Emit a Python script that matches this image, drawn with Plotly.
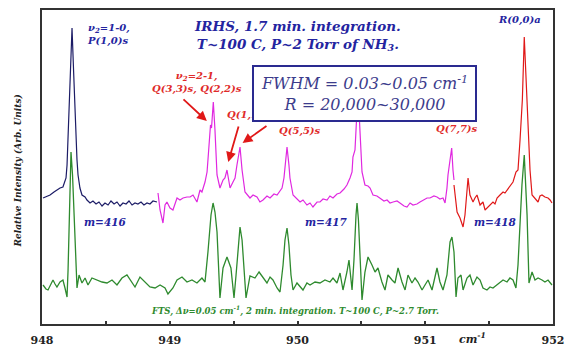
import plotly.graph_objects as go

# ---------------- data (wavenumber in cm-1, relative intensity in arb. units) ----------------
irhs416_x = [948.008, 948.039, 948.063, 948.094, 948.117, 948.141, 948.164, 948.188, 948.196, 948.214,
             948.223, 948.235, 948.247, 948.258, 948.274, 948.282, 948.297, 948.313, 948.337, 948.352,
             948.376, 948.399, 948.423, 948.446, 948.470, 948.493, 948.517, 948.540, 948.564, 948.587,
             948.611, 948.634, 948.658, 948.681, 948.705, 948.728, 948.751, 948.775, 948.798, 948.822,
             948.845, 948.869, 948.900]
irhs416_y = [126, 128, 129, 132, 134, 136, 137, 146, 159, 214,
             254, 296, 254, 214, 164, 149, 136, 129, 127, 124,
             121, 123, 120, 122, 118, 121, 119, 123, 120, 122,
             118, 121, 120, 123, 119, 121, 120, 122, 119, 121,
             120, 123, 122]

irhs417_x = [948.908, 948.924, 948.947, 948.963, 948.978, 949.002, 949.025, 949.057, 949.080, 949.104,
             949.135, 949.159, 949.182, 949.213, 949.237, 949.252, 949.276, 949.292, 949.299, 949.311,
             949.319, 949.327, 949.341, 949.354, 949.370, 949.393, 949.417, 949.432, 949.448, 949.464,
             949.472, 949.495, 949.511, 949.526, 949.550, 949.566, 949.589, 949.628, 949.652, 949.683,
             949.706, 949.730, 949.761, 949.785, 949.816, 949.840, 949.863, 949.879, 949.894, 949.906,
             949.918, 949.933, 949.941, 949.965, 949.988, 950.020, 950.043, 950.074, 950.098, 950.121,
             950.153, 950.176, 950.200, 950.231, 950.254, 950.278, 950.309, 950.333, 950.364, 950.387,
             950.411, 950.427, 950.434, 950.450, 950.466, 950.474, 950.481, 950.497, 950.505, 950.528,
             950.552, 950.568, 950.591, 950.622, 950.646, 950.677, 950.701, 950.724, 950.748, 950.779,
             950.802, 950.834, 950.857, 950.881, 950.904, 950.935, 950.959, 950.990, 951.014, 951.037,
             951.068, 951.092, 951.115, 951.139, 951.155, 951.170, 951.178, 951.194, 951.207, 951.217,
             951.225]
irhs417_y = [131, 114, 101, 119, 122, 116, 114, 126, 124, 126,
             127, 127, 129, 122, 134, 132, 142, 152, 164, 189,
             199, 196, 222, 194, 149, 136, 144, 146, 154, 142,
             136, 142, 146, 159, 177, 154, 132, 126, 129, 127,
             122, 124, 128, 126, 130, 129, 134, 136, 146, 164,
             177, 159, 146, 129, 126, 122, 124, 119, 121, 117,
             122, 122, 125, 124, 128, 126, 130, 131, 135, 139,
             146, 152, 167, 174, 214, 221, 214, 174, 152, 139,
             138, 136, 129, 128, 126, 123, 124, 121, 122, 123,
             121, 118, 117, 121, 119, 120, 122, 124, 126, 126,
             128, 127, 125, 126, 121, 136, 149, 164, 176, 154,
             144]

irhs418_x = [951.225, 951.249, 951.272, 951.288, 951.296, 951.311, 951.327, 951.335, 951.350, 951.374,
             951.389, 951.405, 951.429, 951.452, 951.468, 951.483, 951.507, 951.530, 951.546, 951.562,
             951.585, 951.609, 951.624, 951.640, 951.663, 951.687, 951.710, 951.726, 951.742, 951.760,
             951.775, 951.794, 951.808, 951.820, 951.836, 951.859, 951.883, 951.898, 951.914, 951.937,
             951.961, 951.977, 951.992]
irhs418_y = [139, 112, 106, 99, 97, 109, 129, 146, 129, 122,
             126, 129, 119, 122, 114, 116, 119, 122, 120, 126,
             129, 132, 131, 134, 137, 142, 152, 154, 184, 224,
             287, 224, 184, 154, 129, 126, 122, 128, 129, 127,
             126, 124, 121]

fts_x = [948.008, 948.031, 948.047, 948.070, 948.086, 948.102, 948.117, 948.141, 948.164, 948.180,
         948.196, 948.204, 948.211, 948.219, 948.227, 948.239, 948.250, 948.262, 948.274, 948.290,
         948.313, 948.337, 948.360, 948.391, 948.431, 948.470, 948.509, 948.548, 948.587, 948.626,
         948.665, 948.689, 948.728, 948.767, 948.806, 948.845, 948.885, 948.924, 948.963, 948.986,
         949.025, 949.057, 949.096, 949.135, 949.174, 949.213, 949.252, 949.276, 949.299, 949.323,
         949.339, 949.354, 949.370, 949.393, 949.417, 949.448, 949.479, 949.503, 949.519, 949.534,
         949.550, 949.566, 949.581, 949.597, 949.628, 949.667, 949.699, 949.730, 949.761, 949.785,
         949.808, 949.840, 949.863, 949.887, 949.902, 949.918, 949.933, 949.949, 949.965, 949.996,
         950.020, 950.043, 950.074, 950.098, 950.137, 950.176, 950.215, 950.254, 950.278, 950.309,
         950.333, 950.356, 950.387, 950.403, 950.427, 950.442, 950.458, 950.466, 950.477, 950.489,
         950.505, 950.528, 950.552, 950.583, 950.607, 950.630, 950.661, 950.685, 950.708, 950.740,
         950.763, 950.787, 950.818, 950.842, 950.865, 950.896, 950.920, 950.943, 950.975, 950.998,
         951.022, 951.053, 951.076, 951.092, 951.115, 951.139, 951.170, 951.186, 951.194, 951.209,
         951.225, 951.241, 951.256, 951.280, 951.296, 951.327, 951.350, 951.374, 951.405, 951.429,
         951.452, 951.483, 951.507, 951.530, 951.562, 951.585, 951.609, 951.640, 951.663, 951.687,
         951.710, 951.726, 951.742, 951.757, 951.775, 951.789, 951.797, 951.812, 951.836, 951.859,
         951.883, 951.914, 951.937, 951.961, 951.992]
fts_y = [39, 35, 34, 41, 44, 40, 37, 42, 44, 36,
         27, 54, 94, 149, 172, 149, 109, 74, 36, 49,
         41, 46, 39, 46, 44, 42, 41, 44, 39, 46,
         49, 44, 37, 47, 42, 37, 36, 39, 36, 30,
         36, 44, 47, 42, 44, 41, 46, 42, 72, 109,
         121, 112, 92, 26, 56, 67, 56, 26, 49, 74,
         97, 84, 56, 26, 48, 46, 52, 47, 41, 47,
         44, 36, 32, 59, 84, 96, 79, 49, 34, 41,
         37, 34, 41, 39, 42, 41, 44, 42, 46, 41,
         51, 34, 52, 64, 34, 64, 109, 121, 104, 74,
         24, 52, 67, 59, 52, 56, 42, 34, 49, 44,
         41, 56, 42, 34, 49, 41, 46, 42, 34, 39,
         44, 34, 49, 56, 42, 34, 49, 74, 82, 87,
         72, 27, 46, 49, 34, 46, 49, 39, 47, 44,
         36, 34, 37, 36, 39, 41, 44, 42, 46, 44,
         36, 59, 104, 139, 169, 139, 109, 41, 52, 44,
         46, 44, 42, 44, 39]

x_ticks = [948, 949, 950, 951, 952]

# ---------------- styles ----------------
NAVY = "#1c1c66"
MAGENTA = "#e028e0"
RED = "#e01818"
GREEN = "#2e8a2e"
TXT_BLUE = "#2424a0"
TXT_RED = "#e02a2a"
SERIF = "DejaVu Serif"

fig = go.Figure()
fig.add_trace(go.Scatter(x=fts_x, y=fts_y, mode="lines", line=dict(color=GREEN, width=1.3), name="FTS"))
fig.add_trace(go.Scatter(x=irhs416_x, y=irhs416_y, mode="lines", line=dict(color=NAVY, width=1.2), name="m=416"))
fig.add_trace(go.Scatter(x=irhs417_x, y=irhs417_y, mode="lines", line=dict(color=MAGENTA, width=1.2), name="m=417"))
fig.add_trace(go.Scatter(x=irhs418_x, y=irhs418_y, mode="lines", line=dict(color=RED, width=1.2), name="m=418"))


def label(x, y, text, color, size, **kw):
    fig.add_annotation(x=x, y=y, xref="x", yref="y", text=text, showarrow=False,
                       font=dict(family=SERIF, size=size, color=color, weight="bold", style="italic"), **kw)


label(948.34, 290, "ν<sub>2</sub>=1-0,<br>P(1,0)s", TXT_BLUE, 10, xanchor="left", align="left")
label(950.0, 289, "IRHS, 1.7 min. integration.<br>T~100 C, P~2 Torr of NH<sub>3</sub>.", TXT_BLUE, 13.5, align="center")
label(949.21, 242, "ν<sub>2</sub>=2-1,<br>Q(3,3)s, Q(2,2)s", TXT_RED, 10, align="center")
label(949.43, 209, "Q(1,1)s", TXT_RED, 10, xanchor="left")
label(950.02, 193, "Q(5,5)s", TXT_RED, 10)
label(951.25, 195, "Q(7,7)s", TXT_RED, 10)
label(951.74, 304, "R(0,0)a", TXT_BLUE, 10)
label(948.50, 102, "m=416", TXT_BLUE, 10.5)
label(950.23, 102, "m=417", TXT_BLUE, 10.5)
label(951.55, 102, "m=418", TXT_BLUE, 10.5)
label(949.98, 14, "FTS, Δν=0.05 cm<sup>-1</sup>, 2 min. integration. T~100 C, P~2.7 Torr.", GREEN, 8.5)

# FWHM / resolution box (white box covering traces)
fig.add_annotation(x=950.524, y=230.5, xref="x", yref="y", showarrow=False,
                   text="FWHM = 0.03~0.05 cm<sup>-1</sup><br>R = 20,000~30,000",
                   font=dict(family=SERIF, size=16, color="#3c3c8c", style="italic"),
                   bgcolor="white", bordercolor="#2a2a90", borderwidth=2, borderpad=0,
                   width=221, height=53, align="center")

# red arrows
for (tx, ty, hx, hy) in [(949.096, 226, 949.290, 203), (949.542, 199, 949.458, 162), (949.769, 199, 949.570, 181)]:
    fig.add_annotation(x=hx, y=hy, ax=tx, ay=ty, xref="x", yref="y", axref="x", ayref="y",
                       text="", showarrow=True, arrowhead=2, arrowsize=1.1, arrowwidth=1.8, arrowcolor=RED)

# axis unit label
fig.add_annotation(x=951.37, y=0, xref="x", yref="paper", yshift=-24, text="cm<sup>-1</sup>", showarrow=False,
                   font=dict(family=SERIF, size=11, color="#222222", weight="bold", style="italic"))

# y axis title
fig.add_annotation(x=0, y=0.486, xref="paper", yref="paper", xshift=-31, text="Relative Intensity (Arb. Units)",
                   textangle=-90, showarrow=False,
                   font=dict(family=SERIF, size=9, color="#222222", weight="bold", style="italic"))

fig.update_layout(
    width=565, height=349,
    margin=dict(l=42, r=12, t=10, b=25),
    paper_bgcolor="white", plot_bgcolor="white",
    showlegend=False,
    xaxis=dict(range=[948, 952], tickvals=x_ticks, ticktext=[str(v) for v in x_ticks],
               ticks="inside", ticklen=3, tickwidth=1.5, tickcolor="#333333",
               minor=dict(dtick=0.5, ticks="inside", ticklen=3, tickwidth=1.5, tickcolor="#333333"),
               showline=True, mirror=True, linecolor="#333333", linewidth=2, showgrid=False, zeroline=False,
               automargin=False, ticklabeloverflow="allow", ticklabelstandoff=5,
               tickfont=dict(family=SERIF, size=11, color="#222222", weight="bold")),
    yaxis=dict(range=[0, 314], showticklabels=False, ticks="", showline=True, mirror=True, automargin=False,
               linecolor="#333333", linewidth=2, showgrid=False, zeroline=False),
)

# remove the browser's default page margin so the 565x349 figure fills the window exactly
fig.write_html("out.html", config={"displayModeBar": False},
               post_script="document.body.style.margin='0';document.body.style.overflow='hidden';")
